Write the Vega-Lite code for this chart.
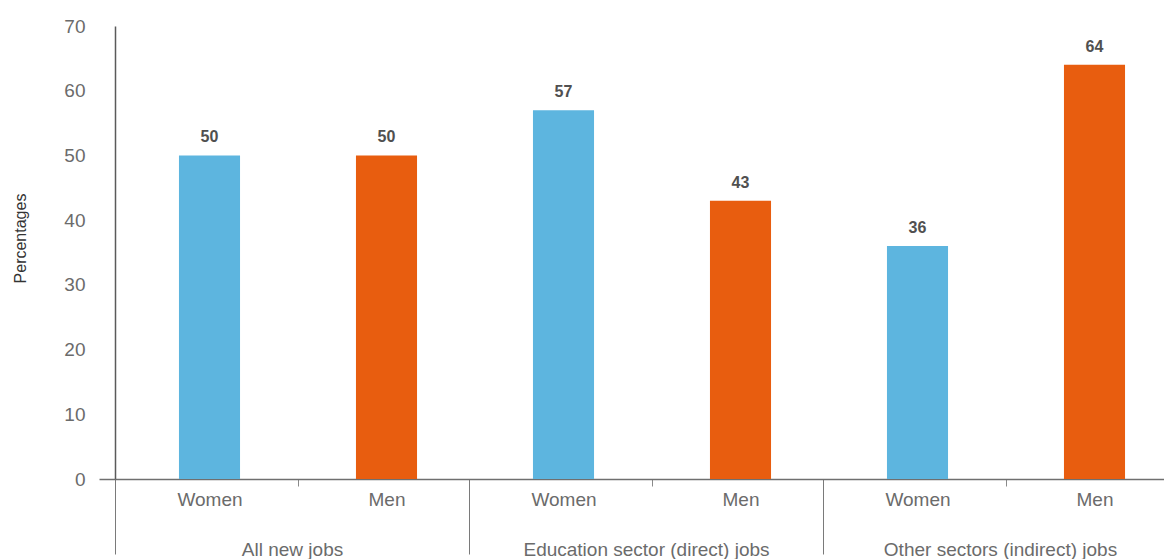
{
  "$schema": "https://vega.github.io/schema/vega-lite/v6.json",
  "width": 1068,
  "height": 453,
  "padding": {"left": 12, "top": 17, "right": 0, "bottom": 0},
  "background": "white",
  "config": {"view": {"stroke": null}, "font": "Liberation Sans"},
  "data": {"values": [
    {"group": "All new jobs", "sex": "Women", "key": "All new jobs|Women", "value": 50},
    {"group": "All new jobs", "sex": "Men", "key": "All new jobs|Men", "value": 50},
    {"group": "Education sector (direct) jobs", "sex": "Women", "key": "Education sector (direct) jobs|Women", "value": 57},
    {"group": "Education sector (direct) jobs", "sex": "Men", "key": "Education sector (direct) jobs|Men", "value": 43},
    {"group": "Other sectors (indirect) jobs", "sex": "Women", "key": "Other sectors (indirect) jobs|Women", "value": 36},
    {"group": "Other sectors (indirect) jobs", "sex": "Men", "key": "Other sectors (indirect) jobs|Men", "value": 64}
  ]},
  "resolve": {"scale": {"x": "independent"}},
  "layer": [
    {
      "encoding": {
        "x": {
          "field": "key", "type": "nominal", "sort": null,
          "scale": {"paddingInner": 0, "paddingOuter": 0.01695, "align": 1},
          "axis": {
            "orient": "bottom", "title": null, "domain": false,
            "labelExpr": "isString(datum.value) ? split(datum.value, '|')[1] : ''",
            "labelAngle": 0, "labelFontSize": 19, "labelColor": "#6b6b6b",
            "labelPadding": 4,
            "tickBand": "extent", "tickSize": 7,
            "tickColor": "#8a8a8a", "tickWidth": 1,
            "tickOpacity": {"condition": {"test": "isString(datum.value) && test(/Women$/, datum.value)", "value": 1}, "value": 0}
          }
        },
        "y": {
          "field": "value", "type": "quantitative",
          "scale": {"domain": [0, 70], "nice": false},
          "axis": {
            "values": [0, 10, 20, 30, 40, 50, 60, 70],
            "grid": false,
            "domainColor": "#5a5a5a", "domainWidth": 1.5,
            "tickSize": 16, "tickColor": "#6f6f6f", "tickWidth": 1.5,
            "tickOpacity": {"condition": {"test": "datum.value === 0", "value": 1}, "value": 0},
            "labelFontSize": 19, "labelColor": "#6b6b6b", "labelPadding": 14,
            "title": "Percentages", "titleFontSize": 16, "titleFontWeight": "normal",
            "titleColor": "#333333", "titlePadding": 36,
            "titleX": -87, "titleY": 212
          }
        }
      },
      "layer": [
        {
          "mark": {"type": "bar", "width": {"band": 0.345}},
          "encoding": {
            "color": {
              "field": "sex", "type": "nominal",
              "scale": {"domain": ["Women", "Men"], "range": ["#5db5df", "#e85d0f"]},
              "legend": null
            }
          }
        },
        {
          "mark": {"type": "text", "baseline": "alphabetic", "dy": -13, "fontSize": 16, "fontWeight": "bold", "color": "#505050"},
          "encoding": {"text": {"field": "value", "type": "quantitative"}}
        }
      ]
    },
    {
      "mark": {"type": "point", "opacity": 0},
      "encoding": {
        "x": {
          "field": "group", "type": "nominal", "sort": null,
          "scale": {"paddingInner": 0, "paddingOuter": 0.008475, "align": 0},
          "axis": {
            "orient": "bottom", "title": null,
            "domain": true, "domainColor": "#6f6f6f", "domainWidth": 1.5,
            "labelAngle": 0, "labelFontSize": 19, "labelColor": "#6b6b6b",
            "labelPadding": -14, "labelLimit": 500,
            "tickBand": "extent", "tickSize": 75, "tickColor": "#7a7a7a", "tickWidth": 1
          }
        },
        "y": {"field": "value", "type": "quantitative"}
      }
    }
  ]
}
